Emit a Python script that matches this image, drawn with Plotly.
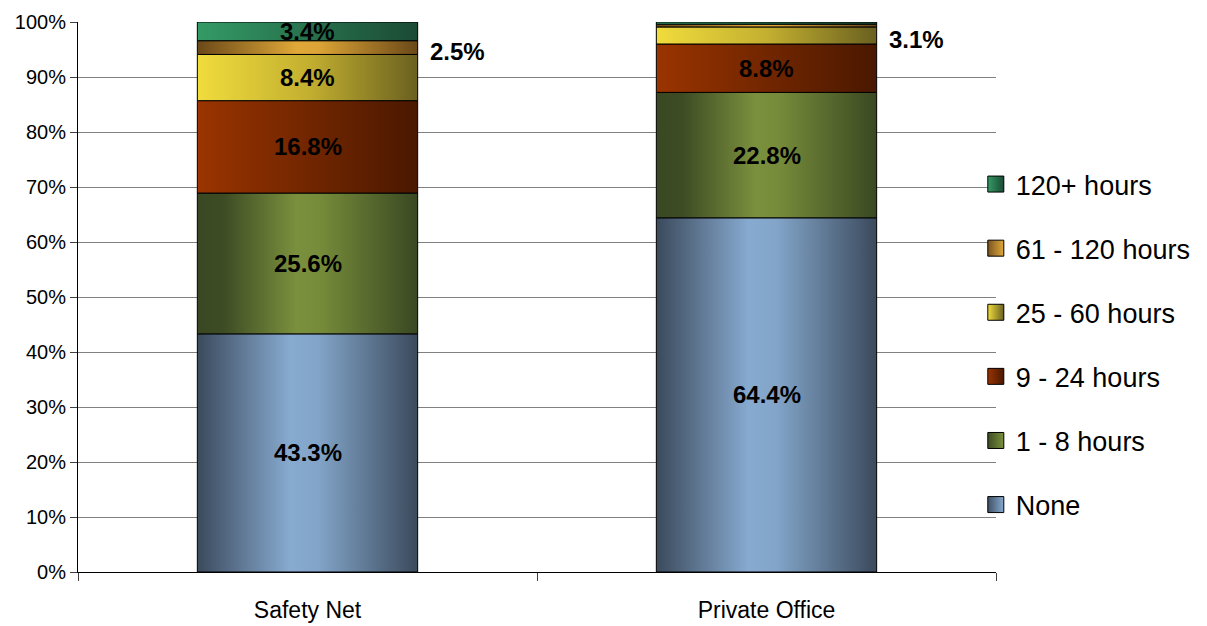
import plotly.graph_objects as go

# Share of respondents by hours, per office type (percent)
categories = ["Safety Net", "Private Office"]
series_names = ["None", "1 - 8 hours", "9 - 24 hours", "25 - 60 hours", "61 - 120 hours", "120+ hours"]
none_vals = [43.3, 64.4]
h1_8_vals = [25.6, 22.8]
h9_24_vals = [16.8, 8.8]
h25_60_vals = [8.4, 3.1]
h61_120_vals = [2.5, 0.5]
h120p_vals = [3.4, 0.4]
# where each value label goes: "in" = centred in the segment, "out" = right of the bar, None = no label
none_lbl = ["in", "in"]
h1_8_lbl = ["in", "in"]
h9_24_lbl = ["in", "in"]
h25_60_lbl = ["in", "out"]
h61_120_lbl = ["out", None]
h120p_lbl = ["in", None]
y_ticks = [0, 10, 20, 30, 40, 50, 60, 70, 80, 90, 100]
y_tick_text = [f"{t}%" for t in y_ticks]

series_vals = [none_vals, h1_8_vals, h9_24_vals, h25_60_vals, h61_120_vals, h120p_vals]
series_lbls = [none_lbl, h1_8_lbl, h9_24_lbl, h25_60_lbl, h61_120_lbl, h120p_lbl]

# horizontal shading per series
gradients = [
    [[0, "#3b4a5c"], [0.42, "#87aad0"], [0.55, "#82a4c8"], [1, "#3b4a5c"]],
    [[0, "#394822"], [0.12, "#3d4c24"], [0.45, "#7b903d"], [0.55, "#778c3a"], [1, "#394822"]],
    [[0, "#9a3400"], [1, "#4a1800"]],
    [[0, "#f0dc3c"], [0.5, "#c4b030"], [1, "#6a6020"]],
    [[0, "#6a4818"], [0.45, "#e0a838"], [0.55, "#dca436"], [1, "#6a4818"]],
    [[0, "#349a66"], [1, "#1b4a34"]],
]
legend_colors = [
    ("#3f5064", "#86a9cf"),
    ("#3d4c24", "#7b903d"),
    ("#9a3400", "#4a1800"),
    ("#f0dc3c", "#6a6020"),
    ("#7a5420", "#e0a838"),
    ("#349a66", "#1b4a34"),
]

bar_w = 0.48
font_family = "Arial, Liberation Sans, sans-serif"

fig = go.Figure()

# legend entries (top-to-bottom: 120+ ... None)
for k in reversed(range(len(series_names))):
    c0, c1 = legend_colors[k]
    fig.add_trace(go.Scatter(
        x=[None], y=[None], mode="markers", name=series_names[k],
        legendgroup=series_names[k], showlegend=True,
        marker=dict(symbol="square", size=16, color=c0,
                    gradient=dict(type="horizontal", color=c1),
                    line=dict(color="black", width=1)),
    ))

annotations = []
for i, cat in enumerate(categories):
    base = 0.0
    x0, x1 = i - bar_w / 2, i + bar_w / 2
    for k, vals in enumerate(series_vals):
        v = vals[i]
        top = base + v
        fig.add_trace(go.Scatter(
            x=[x0, x1, x1, x0, x0], y=[base, base, top, top, base],
            mode="lines", fill="toself", legendgroup=series_names[k], showlegend=False,
            line=dict(color="black", width=1),
            fillgradient=dict(type="horizontal", colorscale=gradients[k]),
            hoverinfo="skip",
        ))
        pos = series_lbls[k][i]
        if pos == "in":
            annotations.append(dict(
                x=i, y=(base + top) / 2, xref="x", yref="y", text=f"{v:.1f}%",
                showarrow=False, font=dict(family=font_family, size=24, color="black", weight="bold"),
            ))
        elif pos == "out":
            annotations.append(dict(
                x=x1, y=(base + top) / 2, xref="x", yref="y", text=f"{v:.1f}%",
                xanchor="left", xshift=10, yshift=-4,
                showarrow=False, font=dict(family=font_family, size=24, color="black", weight="bold"),
            ))
        base = top

fig.update_layout(
    width=1207, height=626,
    margin=dict(l=78, r=211, t=22, b=54, autoexpand=False),
    paper_bgcolor="white", plot_bgcolor="white",
    font=dict(family=font_family, color="black"),
    annotations=annotations,
    showlegend=True,
    legend=dict(
        x=0.978, xanchor="left", y=0.4136, yanchor="middle",
        traceorder="grouped", tracegroupgap=26,
        font=dict(family=font_family, size=27, color="black"),
        itemsizing="trace", bgcolor="rgba(0,0,0,0)",
    ),
)

fig.update_xaxes(
    range=[-0.5, 1.5], tickvals=[0, 1], ticktext=categories,
    ticks="outside", ticklen=8, tickcolor="rgba(0,0,0,0)",
    tickfont=dict(family=font_family, size=23, color="black"),
    showgrid=False, zeroline=False, automargin=False,
    showline=True, linecolor="black", linewidth=1,
    minor=dict(tickvals=[-0.5, 0.5, 1.5], ticks="outside", ticklen=8,
               tickcolor="#404040", showgrid=False),
    ticklabelstandoff=9,
    fixedrange=True,
)
fig.update_yaxes(
    range=[0, 100], tickvals=y_ticks, ticktext=y_tick_text,
    ticks="outside", ticklen=7, tickcolor="#404040",
    tickfont=dict(family=font_family, size=20, color="black"),
    showgrid=True, gridcolor="#808080", gridwidth=1, automargin=False,
    zeroline=False, showline=True, linecolor="black", linewidth=1,
    fixedrange=True,
)

fig.write_html("out.html")
